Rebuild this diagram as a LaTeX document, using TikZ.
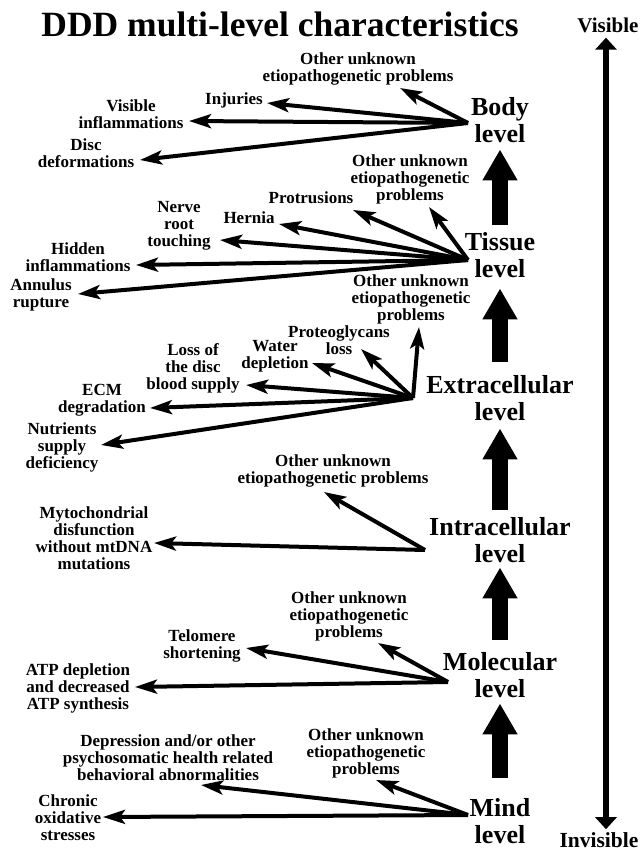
\documentclass[tikz,border=0pt]{standalone}
\usepackage{fontspec}
\setmainfont{Liberation Serif}
\usetikzlibrary{arrows.meta,calc}
\begin{document}
\begin{tikzpicture}[x=1pt,y=-1pt,
  lab/.style={font=\bfseries\fontsize{17}{17}\selectfont, align=center, inner sep=2pt},
  lvl/.style={font=\bfseries\fontsize{26}{27}\selectfont, align=center, inner sep=1pt},
  fanarrow/.style={line width=4pt, -{Stealth[length=22pt,width=14pt,inset=5pt]}},
  levelarrow/.style={line width=16pt, -{Triangle[length=31pt,width=33pt]}},
  sidearrow/.style={line width=6pt, {Triangle[length=12pt,width=21pt]}-{Triangle[length=12pt,width=21pt]}}]
\useasboundingbox[fill=white] (0,0) rectangle (644,852);

% title and side axis
\node[font=\bfseries\fontsize{35.5}{36}\selectfont, inner sep=1pt] (title) at (280,24) {DDD multi-level characteristics};
\node[font=\bfseries\fontsize{21}{21}\selectfont, inner sep=2pt] (visl) at (608,25) {Visible};
\node[font=\bfseries\fontsize{21.5}{22}\selectfont, inner sep=1pt] (invl) at (599,840) {Invisible};
\draw[sidearrow, shorten <=3pt, shorten >=2pt] ($(visl.south)+(-2,0)$) -- ($(visl.south |- invl.north)+(-2,0)$);

% levels
\node[lvl] (body)  at (500,120) {Body\\level};
\node[lvl] (tissue) at (500,255) {Tissue\\level};
\node[lvl] (extra) at (500,398) {Extracellular\\level};
\node[lvl] (intra) at (500,540) {Intracellular\\level};
\node[lvl] (molec) at (500,675) {Molecular\\level};
\node[lvl] (mind)  at (500,821) {Mind\\level};

\draw[levelarrow, shorten <=6.6pt, shorten >=5.6pt] (tissue.north) -- (body.south);
\draw[levelarrow, shorten <=12.6pt, shorten >=9.6pt] (extra.north) -- (tissue.south);
\draw[levelarrow, shorten <=6.6pt, shorten >=6.6pt] (intra.north) -- (extra.south);
\draw[levelarrow, shorten <=11.6pt, shorten >=3.6pt] (molec.north) -- (intra.south);
\draw[levelarrow, shorten <=19.6pt, shorten >=4.6pt] (mind.north) -- (molec.south);

% fan origins
\coordinate (bodyfan) at (468,123);
\coordinate (tisfan) at (468,260);
\coordinate (extfan) at (413,398);
\coordinate (intfan) at (425,550);
\coordinate (molfan) at (448,682);
\coordinate (minfan) at (468,815);

% body level
\node[lab] (bu) at (358,69) {Other unknown\\etiopathogenetic problems};
\node[lab] (inj) at (234,100) {Injuries};
\node[lab] (vis) at (131,114) {Visible\\inflammations};
\node[lab] (disc) at (86,153) {Disc\\deformations};
\draw[fanarrow] (bodyfan) -- ($(bu)+(42,19)$);
\draw[fanarrow] (bodyfan) -- ($(inj)+(33,3)$);
\draw[fanarrow] (bodyfan) -- ($(vis)+(58,7)$);
\draw[fanarrow] (bodyfan) -- ($(disc)+(54,7)$);

% tissue level
\node[lab] (tu) at (410,179) {Other unknown\\etiopathogenetic\\problems};
\node[lab] (prot) at (311,198) {Protrusions};
\node[lab] (hern) at (249,218) {Hernia};
\node[lab] (nerve) at (179,226) {Nerve\\root\\touching};
\node[lab] (hid) at (78,257) {Hidden\\inflammations};
\node[lab] (ann) at (41,295) {Annulus\\rupture};
\draw[fanarrow] (tisfan) -- ($(tu)+(19,28)$);
\draw[fanarrow] (tisfan) -- ($(prot)+(42,12)$);
\draw[fanarrow] (tisfan) -- ($(hern)+(30,6)$);
\draw[fanarrow] (tisfan) -- ($(nerve)+(41,14)$);
\draw[fanarrow] (tisfan) -- ($(hid)+(58,8)$);
\draw[fanarrow] (tisfan) -- ($(ann)+(37,-1)$);

% extracellular level
\node[lab] (eu) at (411,299) {Other unknown\\etiopathogenetic\\problems};
\node[lab] (pg) at (339,340) {Proteoglycans\\loss};
\node[lab] (wat) at (275,356) {Water\\depletion};
\node[lab] (loss) at (193,368) {Loss of\\the disc\\blood supply};
\node[lab] (ecm) at (102,400) {ECM\\degradation};
\node[lab] (nut) at (62,447) {Nutrients\\supply\\deficiency};
\draw[fanarrow] (extfan) -- ($(eu)+(8,28)$);
\draw[fanarrow] (extfan) -- ($(pg)+(22,9)$);
\draw[fanarrow] (extfan) -- ($(wat)+(37,7)$);
\draw[fanarrow] (extfan) -- ($(loss)+(53,17)$);
\draw[fanarrow] (extfan) -- ($(ecm)+(48,8)$);
\draw[fanarrow] (extfan) -- ($(nut)+(39,-2)$);

% intracellular level
\node[lab] (iu) at (333,471) {Other unknown\\etiopathogenetic problems};
\node[lab] (mito) at (94,538) {Mytochondrial\\disfunction\\without mtDNA\\mutations};
\draw[fanarrow] (intfan) -- ($(iu)+(-9,21)$);
\draw[fanarrow] (intfan) -- ($(mito)+(60,5)$);

% molecular level
\node[lab] (mu) at (349,616) {Other unknown\\etiopathogenetic\\problems};
\node[lab] (tel) at (202,646) {Telomere\\shortening};
\node[lab] (atp) at (78,688) {ATP depletion\\and decreased\\ATP synthesis};
\draw[fanarrow] (molfan) -- ($(mu)+(29,27)$);
\draw[fanarrow] (molfan) -- ($(tel)+(44,2)$);
\draw[fanarrow] (molfan) -- ($(atp)+(57,-1)$);

% mind level
\node[lab] (miu) at (366,753) {Other unknown\\etiopathogenetic\\problems};
\node[lab] (dep) at (168,758) {Depression and/or other\\psychosomatic health related\\behavioral abnormalities};
\node[lab] (chr) at (68,818) {Chronic\\oxidative\\stresses};
\draw[fanarrow] (minfan) -- ($(miu)+(10,27)$);
\draw[fanarrow] (minfan) -- ($(dep)+(33,27)$);
\draw[fanarrow] (minfan) -- ($(chr)+(35,-1)$);
\end{tikzpicture}
\end{document}
